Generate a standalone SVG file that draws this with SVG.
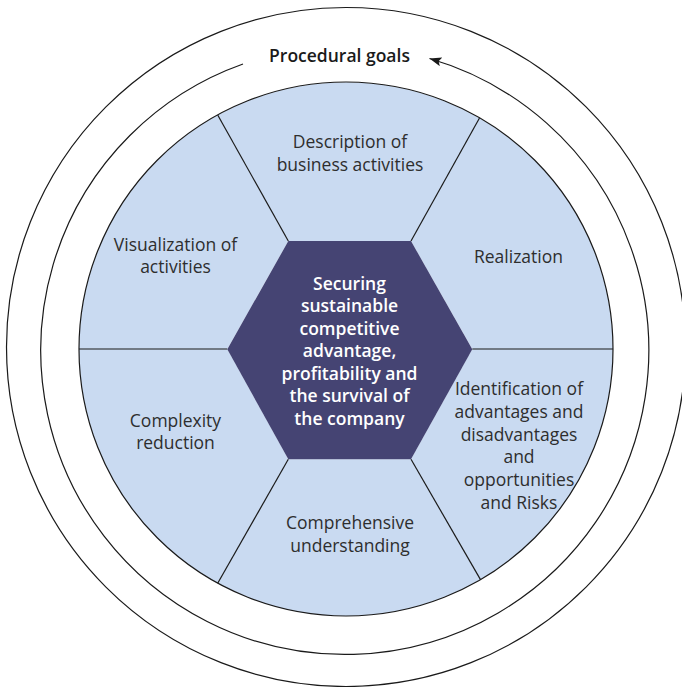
<svg xmlns="http://www.w3.org/2000/svg" width="682" height="687" viewBox="0 0 682 687">
<style>
.ring{fill:none;stroke:#1a1a1a;stroke-width:1.2}
.seg{fill:#C9DAF1;stroke:none}
.div{stroke:#1a1a1a;stroke-width:1.2;fill:none}
.lbl{font-family:"Open Sans","Liberation Sans",sans-serif;font-size:17.5px;fill:#2e2e2e;text-anchor:middle}
.ctr{font-family:"Open Sans","Liberation Sans",sans-serif;font-size:17.5px;font-weight:600;fill:#ffffff;text-anchor:middle}
.ttl{font-family:"Open Sans","Liberation Sans",sans-serif;font-size:17.5px;font-weight:600;fill:#1a1a1a;text-anchor:middle}
</style>
<defs>
<marker id="arr" markerUnits="userSpaceOnUse" markerWidth="14" markerHeight="12" refX="12" refY="4.5" orient="auto">
<path d="M0,0 L12,4.5 L0,9 L2.5,4.5 Z" fill="#1a1a1a"/>
</marker>
</defs>
<rect width="682" height="687" fill="#ffffff"/>
<circle class="ring" cx="346" cy="347" r="339.5"/>
<g id="connectors">
<path class="ring" d="M243,64 A304,304 0 1,0 429.5,58.5" marker-end="url(#arr)"/>
</g>
<g id="seg-description">
<path class="seg" d="M288.3,241 L217.7,115 A267,267 0 0,1 479.5,118 L411,241 Z"/>
<text class="lbl" x="350" y="148">Description of</text>
<text class="lbl" x="350" y="171">business activities</text>
</g>
<g id="seg-realization">
<path class="seg" d="M411,241 L479.5,118 A267,267 0 0,1 613,349 L472.3,349 Z"/>
<text class="lbl" x="518.5" y="262.5">Realization</text>
</g>
<g id="seg-identification">
<path class="seg" d="M472.3,349 L613,349 A267,267 0 0,1 480.5,579.6 L411,459.3 Z"/>
<text class="lbl" x="519" y="395">Identification of</text>
<text class="lbl" x="519" y="417.8">advantages and</text>
<text class="lbl" x="519" y="440.6">disadvantages</text>
<text class="lbl" x="519" y="463.4">and</text>
<text class="lbl" x="519" y="486.2">opportunities</text>
<text class="lbl" x="519" y="509">and Risks</text>
</g>
<g id="seg-comprehensive">
<path class="seg" d="M411,459.3 L480.5,579.6 A267,267 0 0,1 217.7,583.3 L288.3,459.3 Z"/>
<text class="lbl" x="350" y="529.3">Comprehensive</text>
<text class="lbl" x="350" y="551.8">understanding</text>
</g>
<g id="seg-complexity">
<path class="seg" d="M288.3,459.3 L217.7,583.3 A267,267 0 0,1 79,349 L227.3,349 Z"/>
<text class="lbl" x="175.5" y="426.7">Complexity</text>
<text class="lbl" x="175.5" y="448.5">reduction</text>
</g>
<g id="seg-visualization">
<path class="seg" d="M227.3,349 L79,349 A267,267 0 0,1 217.7,115 L288.3,241 Z"/>
<text class="lbl" x="175.5" y="251">Visualization of</text>
<text class="lbl" x="175.5" y="273.4">activities</text>
</g>
<g id="dividers">
<circle class="div" cx="346" cy="349" r="267"/>
<line class="div" x1="288.3" y1="241" x2="217.7" y2="115"/>
<line class="div" x1="411" y1="241" x2="479.5" y2="118"/>
<line class="div" x1="227.3" y1="349" x2="79" y2="349"/>
<line class="div" x1="472.3" y1="349" x2="613" y2="349"/>
<line class="div" x1="288.3" y1="459.3" x2="217.7" y2="583.3"/>
<line class="div" x1="411" y1="459.3" x2="480.5" y2="579.6"/>
</g>
<g id="center">
<path d="M227.3,349.3 L288.3,241 L411,241 L472.3,349.3 L411,459.3 L288.3,459.3 Z" fill="#454473"/>
<text class="ctr" x="349.5" y="289.5">Securing</text>
<text class="ctr" x="349.5" y="312">sustainable</text>
<text class="ctr" x="349.5" y="334.5">competitive</text>
<text class="ctr" x="349.5" y="357">advantage,</text>
<text class="ctr" x="349.5" y="379.5">profitability and</text>
<text class="ctr" x="349.5" y="402">the survival of</text>
<text class="ctr" x="349.5" y="424.5">the company</text>
</g>
<g id="title">
<text class="ttl" x="339.5" y="61.5">Procedural goals</text>
</g>
</svg>
